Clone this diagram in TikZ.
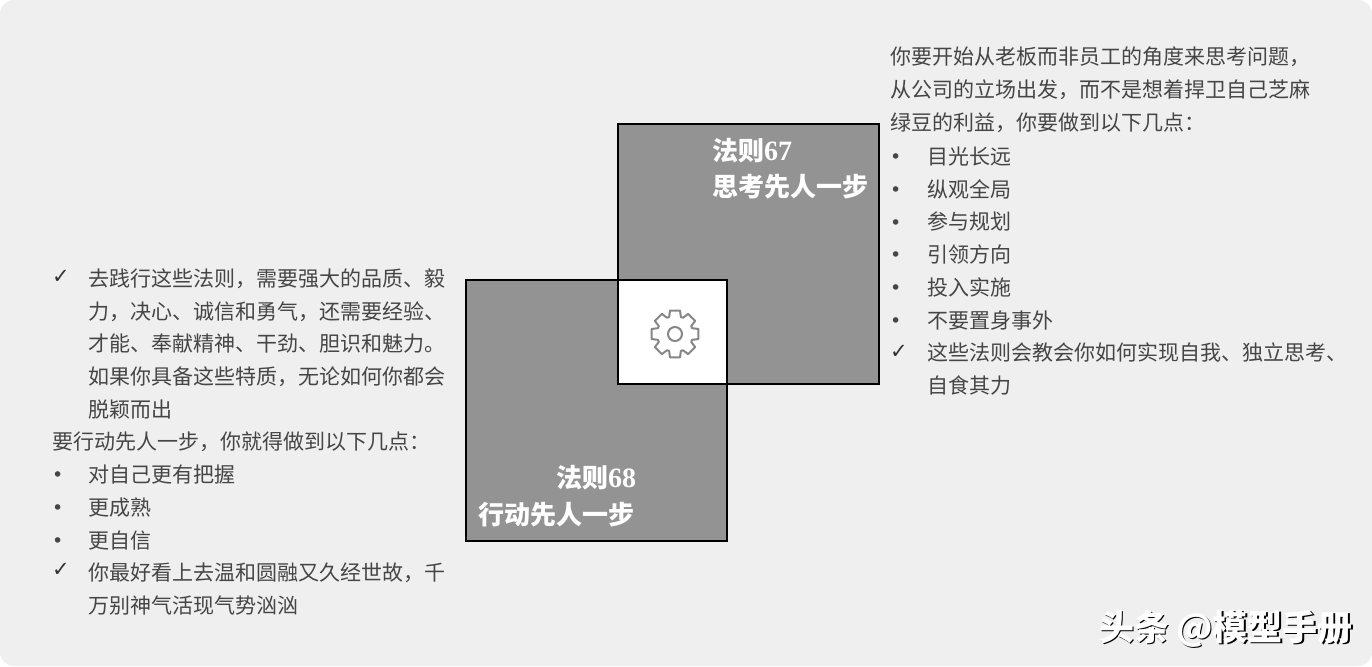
\documentclass[tikz,border=0pt]{standalone}
\usepackage{fontspec}
\setmainfont{Noto Sans CJK SC}
\newfontfamily\digitfont{Liberation Serif}
\newfontfamily\symfont{DejaVu Sans}
\definecolor{pagebg}{HTML}{EFEFEF}
\definecolor{boxgray}{HTML}{939393}
\definecolor{bodytext}{HTML}{454545}
\definecolor{gearline}{HTML}{868686}
\newcommand{\wmtext}{头条\hspace{7pt}@模型手册}
\tikzset{
  lineTxt/.style={anchor=base west,inner sep=0pt,outer sep=0pt,text=bodytext,font=\fontsize{21}{26}\selectfont},
  markTxt/.style={anchor=base west,inner sep=0pt,outer sep=0pt,text=bodytext,font=\symfont\fontsize{19}{24}\selectfont},
  checkTxt/.style={anchor=base west,inner sep=0pt,outer sep=0pt,text=black!80,font=\symfont\bfseries\fontsize{21}{24}\selectfont},
  square/.style={draw=black,line width=1.5pt,fill=boxgray},
  titleTxt/.style={anchor=base west,inner sep=0pt,outer sep=0pt,text=white,font=\bfseries\fontsize{26}{30}\selectfont},
}
\begin{document}
\begin{tikzpicture}[x=1pt,y=-1pt]
\useasboundingbox (0,0) rectangle (1372,666);
\fill[white] (0,0) rectangle (1372,666);
\fill[pagebg,rounded corners=14pt] (0,0) rectangle (1372,666);
% squares
\draw[square] (618,124) rectangle (879,384);
\draw[square] (466,280) rectangle (727,541);
\draw[black,line width=1.5pt,fill=white] (618,280) rectangle (727,384);
% gear
\begin{scope}[shift={(675,334)}]
\draw[gearline,line width=2pt,line join=round]
  (78:24)
  \foreach \a in {0,45,...,315}{
    -- ({90+\a+12}:24) -- ({90+\a+19}:18) -- ({90+\a+26}:18) -- ({90+\a+33}:24)
  } -- cycle;
\draw[gearline,line width=2pt] (0,0) circle (7);
\end{scope}
% titles
\node[titleTxt] (t67a) at (712,160) {法则{\digitfont\bfseries\fontsize{28}{30}\selectfont 67}};
\node[titleTxt] (t67b) at (712,196) {思考先人一步};
\node[titleTxt] (t68a) at (556,487) {法则{\digitfont\bfseries\fontsize{28}{30}\selectfont 68}};
\node[titleTxt] (t68b) at (478,524) {行动先人一步};
% right column
\node[lineTxt] (r1) at (890,65) {你要开始从老板而非员工的角度来思考问题，};
\node[lineTxt] (r2) at (890,98) {从公司的立场出发，而不是想着捍卫自己芝麻};
\node[lineTxt] (r3) at (890,131) {绿豆的利益，你要做到以下几点：};
\node[markTxt] (rb1) at (890,163) {•};
\node[lineTxt] (r4) at (927,164) {目光长远};
\node[markTxt] (rb2) at (890,196) {•};
\node[lineTxt] (r5) at (927,197) {纵观全局};
\node[markTxt] (rb3) at (890,229) {•};
\node[lineTxt] (r6) at (927,229) {参与规划};
\node[markTxt] (rb4) at (890,261) {•};
\node[lineTxt] (r7) at (927,262) {引领方向};
\node[markTxt] (rb5) at (890,294) {•};
\node[lineTxt] (r8) at (927,295) {投入实施};
\node[markTxt] (rb6) at (890,327) {•};
\node[lineTxt] (r9) at (927,328) {不要置身事外};
\node[checkTxt] (rc1) at (890,358) {✓};
\node[lineTxt] (r10) at (927,360) {这些法则会教会你如何实现自我、独立思考、};
\node[lineTxt] (r11) at (927,393) {自食其力};
% left column
\node[checkTxt] (lc1) at (52,283) {✓};
\node[lineTxt] (l1) at (88,286) {去践行这些法则，需要强大的品质、毅};
\node[lineTxt] (l2) at (88,319) {力，决心、诚信和勇气，还需要经验、};
\node[lineTxt] (l3) at (88,351) {才能、奉献精神、干劲、胆识和魅力。};
\node[lineTxt] (l4) at (88,384) {如果你具备这些特质，无论如何你都会};
\node[lineTxt] (l5) at (88,417) {脱颖而出};
\node[lineTxt] (l6) at (52,449) {要行动先人一步，你就得做到以下几点：};
\node[markTxt] (lb1) at (52,481) {•};
\node[lineTxt] (l7) at (88,482) {对自己更有把握};
\node[markTxt] (lb2) at (52,514) {•};
\node[lineTxt] (l8) at (88,515) {更成熟};
\node[markTxt] (lb3) at (52,547) {•};
\node[lineTxt] (l9) at (88,548) {更自信};
\node[checkTxt] (lc2) at (52,576) {✓};
\node[lineTxt] (l10) at (88,580) {你最好看上去温和圆融又久经世故，千};
\node[lineTxt] (l11) at (88,613) {万别神气活现气势汹汹};
% watermark
\node[anchor=base west,inner sep=0pt,font=\bfseries\fontsize{35}{40}\selectfont] (wm) at (1099,640)
  {\rlap{\kern1.6pt\raisebox{-1.8pt}{\color{black}\wmtext}}\color{white}\wmtext};
\end{tikzpicture}
\end{document}
